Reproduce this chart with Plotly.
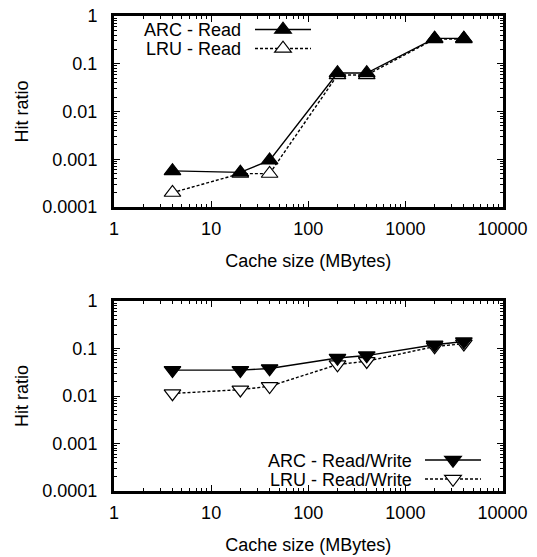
import plotly.graph_objects as go

cache_mb = [4, 20, 40, 200, 400, 2000, 4000]
arc_read = [0.00057, 0.00053, 0.00095, 0.064, 0.064, 0.34, 0.34]
lru_read = [0.0002, 0.0005, 0.0005, 0.058, 0.058, 0.33, 0.33]
arc_rw = [0.035, 0.035, 0.038, 0.063, 0.071, 0.12, 0.14]
lru_rw = [0.0113, 0.0136, 0.016, 0.046, 0.054, 0.11, 0.126]

x_ticks = [1, 10, 100, 1000, 10000]
x_ticktext = ["1", "10", "100", "1000", "10000"]
y_ticks = [0.0001, 0.001, 0.01, 0.1, 1]
y_ticktext = ["0.0001", "0.001", "0.01", "0.1", "1"]

FONT = "Liberation Sans, Arial, Helvetica, sans-serif"
W, H = 537, 557

x_minor = [m * 10 ** e for e in range(0, 4) for m in range(2, 10)]
y_minor = [m * 10.0 ** e for e in range(-4, 0) for m in range(2, 10)]

fig = go.Figure()

def add(x, y, sym, fill, dash, xa, ya, leg):
    fig.add_trace(go.Scatter(
        x=x, y=y, mode="lines+markers", name="",
        line=dict(color="black", width=1.4, dash=dash),
        marker=dict(symbol=sym, size=14.5, color=fill, line=dict(color="black", width=1.2)),
        xaxis=xa, yaxis=ya, legend=leg, showlegend=True))

add(cache_mb, lru_read, "triangle-up", "white", "3px,2px", "x", "y", "legend")
add(cache_mb, arc_read, "triangle-up", "black", "solid", "x", "y", "legend")
add(cache_mb, lru_rw, "triangle-down", "white", "3px,2px", "x2", "y2", "legend2")
add(cache_mb, arc_rw, "triangle-down", "black", "solid", "x2", "y2", "legend2")

def px_x(p):
    return p / W

def px_y(p):
    return 1 - p / H

xdom = [px_x(114), px_x(502.5)]
ax_common = dict(type="log", showgrid=False, zeroline=False, showline=True, linecolor="black",
                 linewidth=3, mirror="ticks", ticks="inside", ticklen=6, tickwidth=1.2,
                 tickcolor="black", automargin=False,
                 tickfont=dict(family=FONT, size=18, color="black"))

xaxis = dict(ax_common, range=[0, 4], tickvals=x_ticks, ticktext=x_ticktext,
             minor=dict(tickvals=x_minor, ticks="inside", ticklen=3, tickcolor="black", tickwidth=1),
             ticklabelstandoff=3,
             title=dict(text="Cache size (MBytes)", font=dict(family=FONT, size=18, color="black"), standoff=17))
yaxis = dict(ax_common, range=[-4, 0], tickvals=y_ticks, ticktext=y_ticktext,
             minor=dict(tickvals=y_minor, ticks="inside", ticklen=3, tickcolor="black", tickwidth=1),
             ticklabelstandoff=10,
             title=dict(text="Hit ratio", font=dict(family=FONT, size=18, color="black"), standoff=10))

fig.update_layout(
    width=W, height=H, margin=dict(l=0, r=0, t=0, b=0, autoexpand=False),
    paper_bgcolor="white", plot_bgcolor="white",
    xaxis=dict(xaxis, domain=xdom, anchor="y"),
    yaxis=dict(yaxis, domain=[px_y(207), px_y(16)], anchor="x"),
    xaxis2=dict(xaxis, domain=xdom, anchor="y2"),
    yaxis2=dict(yaxis, domain=[px_y(491), px_y(301)], anchor="x2"),
    legend=dict(x=px_x(250), y=px_y(15), xanchor="left", yanchor="top", bgcolor="rgba(0,0,0,0)",
                itemwidth=56, font=dict(family=FONT, size=12), tracegroupgap=0, traceorder="reversed"),
    legend2=dict(x=px_x(420), y=px_y(445.5), xanchor="left", yanchor="top", bgcolor="rgba(0,0,0,0)",
                 itemwidth=56, font=dict(family=FONT, size=12), tracegroupgap=0, traceorder="reversed"),
    showlegend=True,
)

labels = [("ARC - Read", 243, 30), ("LRU - Read", 243, 48.5),
          ("ARC - Read/Write", 414, 461), ("LRU - Read/Write", 414, 479.5)]
for txt, xr, yc in labels:
    fig.add_annotation(text=txt, x=px_x(xr), y=px_y(yc), xref="paper", yref="paper",
                       xanchor="right", yanchor="middle", showarrow=False,
                       font=dict(family=FONT, size=18, color="black"))

fig.write_html("out.html", config={"displayModeBar": False},
               post_script="document.body.style.margin='0';")
